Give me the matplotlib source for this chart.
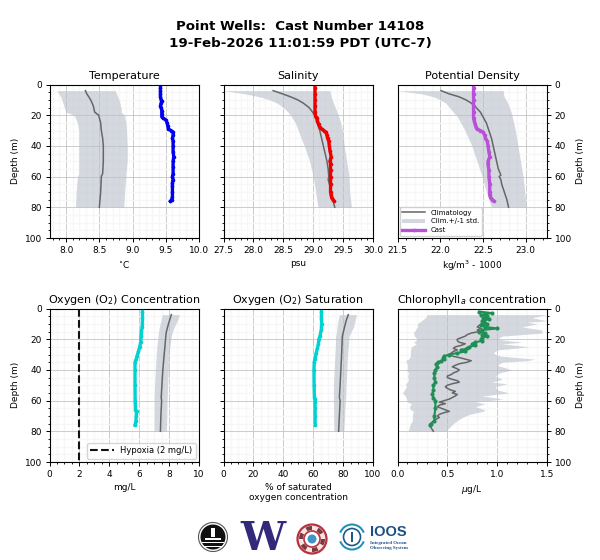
import matplotlib
matplotlib.use('Agg')
import matplotlib.pyplot as plt
from matplotlib.patches import Circle, Wedge, Rectangle
from matplotlib.ticker import AutoMinorLocator

# temperature
temp_clim_z = [4, 6, 8, 10, 12, 14, 16, 18, 20, 25, 30, 35, 40, 50, 58, 60, 65, 70, 75, 80]
temp_clim = [8.29, 8.31, 8.34, 8.37, 8.39, 8.41, 8.42, 8.43, 8.49, 8.52, 8.53, 8.55, 8.56, 8.56, 8.55, 8.53, 8.525, 8.52, 8.51, 8.50]
temp_std_z = [4, 8, 12, 16, 18, 20, 25, 30, 40, 50, 58, 60, 70, 80]
temp_low = [7.86, 7.92, 7.95, 7.98, 8.0, 8.12, 8.17, 8.19, 8.19, 8.19, 8.19, 8.17, 8.15, 8.14]
temp_high = [8.74, 8.78, 8.81, 8.83, 8.83, 8.88, 8.90, 8.91, 8.92, 8.92, 8.90, 8.90, 8.88, 8.87]
temp_z = [2, 4, 6, 8, 10, 11, 12, 14, 15, 17, 19, 21, 22, 23, 25, 27, 29, 30, 31, 33, 35, 37, 40, 44, 47, 50, 54, 58, 60, 62, 64, 66, 70, 73, 75, 76]
temp = [9.42, 9.42, 9.42, 9.42, 9.43, 9.44, 9.43, 9.42, 9.43, 9.44, 9.44, 9.44, 9.46, 9.50, 9.52, 9.53, 9.54, 9.58, 9.61, 9.61, 9.60, 9.61, 9.61, 9.61, 9.62, 9.61, 9.61, 9.61, 9.60, 9.61, 9.60, 9.60, 9.60, 9.60, 9.59, 9.57]

# salinity
sal_clim_z = [4, 6, 8, 10, 12, 15, 18, 20, 25, 30, 35, 40, 45, 50, 55, 60, 62, 66, 70, 75, 80]
sal_clim = [28.33, 28.48, 28.62, 28.74, 28.83, 28.93, 28.99, 29.02, 29.07, 29.11, 29.14, 29.17, 29.20, 29.23, 29.25, 29.26, 29.25, 29.28, 29.30, 29.33, 29.36]
sal_std_z = [4, 6, 8, 10, 12, 15, 18, 20, 25, 30, 40, 50, 60, 70, 80]
sal_low = [27.5, 27.85, 28.1, 28.27, 28.39, 28.50, 28.58, 28.62, 28.70, 28.75, 28.85, 28.94, 29.0, 29.04, 29.08]
sal_high = [29.28, 29.29, 29.30, 29.32, 29.34, 29.37, 29.40, 29.42, 29.46, 29.49, 29.52, 29.56, 29.60, 29.61, 29.64]
sal_z = [2, 6, 10, 14, 18, 21, 22, 24, 26, 28, 29, 30, 31, 33, 35, 37, 40, 43, 47, 50, 52, 56, 60, 65, 70, 72, 74, 75, 76]
sal = [29.03, 29.03, 29.03, 29.03, 29.03, 29.04, 29.07, 29.07, 29.09, 29.11, 29.14, 29.18, 29.21, 29.23, 29.24, 29.26, 29.27, 29.28, 29.30, 29.28, 29.29, 29.29, 29.29, 29.29, 29.29, 29.30, 29.31, 29.33, 29.35]

# potential density
den_clim_z = [4, 6, 8, 10, 12, 15, 18, 20, 25, 30, 35, 40, 45, 50, 55, 59, 60, 62, 65, 70, 75, 80]
den_clim = [22.01, 22.10, 22.22, 22.30, 22.36, 22.42, 22.47, 22.49, 22.54, 22.57, 22.60, 22.62, 22.64, 22.66, 22.68, 22.71, 22.69, 22.71, 22.72, 22.75, 22.78, 22.80]
den_std_z = [4, 6, 8, 10, 12, 15, 18, 20, 25, 30, 40, 50, 60, 70, 80]
den_low = [21.5, 21.78, 21.92, 22.0, 22.06, 22.11, 22.15, 22.19, 22.24, 22.29, 22.37, 22.43, 22.49, 22.54, 22.60]
den_high = [22.74, 22.74, 22.75, 22.77, 22.79, 22.81, 22.83, 22.84, 22.86, 22.88, 22.91, 22.94, 22.97, 22.99, 23.01]
den_z = [2, 6, 10, 14, 18, 22, 24, 26, 28, 29, 30, 31, 33, 35, 37, 40, 44, 47, 50, 52, 56, 60, 65, 70, 72, 74, 75, 76]
den = [22.39, 22.39, 22.39, 22.39, 22.39, 22.39, 22.40, 22.41, 22.42, 22.43, 22.47, 22.50, 22.52, 22.53, 22.55, 22.56, 22.57, 22.58, 22.56, 22.56, 22.57, 22.57, 22.58, 22.58, 22.58, 22.59, 22.61, 22.63]

# oxygen concentration
oxy_clim_z = [4, 8, 12, 16, 18, 25, 30, 40, 50, 58, 60, 70, 80]
oxy_clim = [8.15, 8.02, 7.9, 7.8, 7.78, 7.72, 7.67, 7.58, 7.52, 7.47, 7.50, 7.45, 7.42]
oxy_low = [7.55, 7.45, 7.35, 7.28, 7.26, 7.18, 7.14, 7.08, 7.03, 7.0, 7.0, 7.0, 7.0]
oxy_high = [8.7, 8.55, 8.35, 8.2, 8.15, 8.05, 8.0, 7.95, 7.9, 7.88, 7.87, 7.85, 7.82]
oxy_z = [2, 6, 10, 12, 15, 18, 22, 25, 28, 31, 33, 35, 40, 50, 60, 66, 67, 70, 73, 75, 76]
oxy = [6.22, 6.22, 6.21, 6.20, 6.15, 6.13, 6.10, 6.03, 5.95, 5.85, 5.80, 5.72, 5.72, 5.72, 5.73, 5.75, 5.82, 5.80, 5.78, 5.75, 5.72]

# oxygen saturation
sat_clim_z = [4, 8, 12, 16, 18, 25, 30, 40, 50, 58, 60, 70, 80]
sat_clim = [83.5, 82, 81, 80, 79.5, 79.2, 79, 78.5, 78, 77.5, 78, 77.5, 77]
sat_low = [77.5, 76.5, 76, 75.5, 75, 74.8, 74.5, 74, 73.5, 73.5, 73.5, 73.7, 73.8]
sat_high = [89, 88, 87, 85, 84, 83.5, 83, 82.5, 82, 81.8, 81.5, 81, 80.5]
sat_z = [2, 6, 10, 14, 18, 20, 23, 26, 29, 33, 35, 40, 50, 58, 59, 61, 65, 70, 76]
sat = [65.5, 65.5, 65.6, 65.4, 64.5, 63.8, 63.5, 62.8, 62, 61.2, 60.7, 60.5, 60.6, 60.8, 61.5, 61.2, 61.3, 61.3, 61.3]

# chlorophyll
chl_clim_z = [4, 8, 10, 12, 13, 14, 15, 16, 17, 18, 19, 20, 21, 22, 23, 24, 25, 26, 27, 28, 29, 30, 31, 32, 33, 34, 35, 36, 37, 38, 39, 40, 41, 42, 43, 44, 45, 46, 47, 48, 49, 50, 51, 52, 53, 54, 55, 56, 57, 58, 59, 60, 61, 62, 63, 64, 65, 66, 67, 68, 69, 70, 71, 72, 73, 74, 75, 76, 77, 78, 79, 80]
chl_clim = [0.90, 0.88, 0.84, 0.80, 0.84, 0.80, 0.82, 0.74, 0.70, 0.68, 0.64, 0.60, 0.60, 0.62, 0.68, 0.64, 0.58, 0.56, 0.60, 0.56, 0.54, 0.52, 0.55, 0.62, 0.68, 0.74, 0.70, 0.62, 0.58, 0.55, 0.59, 0.62, 0.60, 0.56, 0.54, 0.50, 0.50, 0.54, 0.60, 0.62, 0.55, 0.50, 0.48, 0.50, 0.53, 0.58, 0.55, 0.60, 0.58, 0.55, 0.52, 0.47, 0.42, 0.48, 0.42, 0.40, 0.44, 0.48, 0.52, 0.46, 0.42, 0.40, 0.42, 0.39, 0.37, 0.35, 0.33, 0.32, 0.33, 0.34, 0.35, 0.36]
chl_std_z = [4, 6, 8, 9, 10, 12, 14, 16, 18, 20, 22, 23, 25, 27, 29, 31, 33, 34, 35, 37, 39, 40, 42, 44, 46, 48, 49, 51, 53, 55, 57, 59, 61, 62, 64, 66, 67, 69, 71, 73, 75, 77, 79, 80]
chl_low = [0.30, 0.28, 0.24, 0.22, 0.20, 0.20, 0.18, 0.16, 0.17, 0.20, 0.16, 0.19, 0.14, 0.13, 0.13, 0.13, 0.11, 0.08, 0.09, 0.10, 0.10, 0.09, 0.11, 0.10, 0.11, 0.10, 0.08, 0.09, 0.07, 0.05, 0.08, 0.09, 0.10, 0.14, 0.12, 0.13, 0.16, 0.15, 0.15, 0.15, 0.13, 0.12, 0.11, 0.11]
chl_high = [1.50, 1.35, 1.50, 1.30, 1.40, 1.25, 1.45, 1.45, 1.05, 1.00, 1.25, 1.05, 1.32, 1.00, 0.96, 1.03, 1.38, 1.30, 1.05, 1.00, 1.10, 1.15, 1.02, 0.98, 1.05, 0.95, 1.10, 0.98, 1.00, 1.12, 0.85, 1.06, 0.78, 0.88, 0.78, 0.88, 0.86, 0.72, 0.65, 0.60, 0.56, 0.53, 0.50, 0.50]
chl_z = [2, 3, 4, 5, 6, 7, 8, 9, 10, 11, 12, 13, 14, 15, 16, 17, 18, 19, 20, 21, 22, 23, 24, 25, 26, 27, 28, 29, 30, 31, 32, 33, 34, 35, 36, 38, 40, 42, 45, 48, 50, 53, 56, 58, 60, 65, 70, 73, 75, 76]
chl = [0.82, 0.95, 0.84, 0.90, 0.86, 0.92, 0.85, 0.87, 0.90, 0.84, 0.88, 1.00, 0.85, 0.82, 0.88, 0.85, 0.90, 0.85, 0.84, 0.85, 0.78, 0.75, 0.78, 0.72, 0.70, 0.64, 0.68, 0.60, 0.52, 0.47, 0.46, 0.47, 0.44, 0.41, 0.39, 0.40, 0.38, 0.37, 0.37, 0.38, 0.36, 0.36, 0.35, 0.36, 0.38, 0.38, 0.37, 0.37, 0.34, 0.33]

hypoxia_x = [2, 2]
hypoxia_z = [0, 100]

plt.rcParams['font.size'] = 7
plt.rcParams['axes.linewidth'] = 0.8
plt.rcParams['xtick.major.size'] = 3
plt.rcParams['ytick.major.size'] = 3
plt.rcParams['xtick.minor.size'] = 1.5
plt.rcParams['ytick.minor.size'] = 1.5

W, H = 600, 560
fig = plt.figure(figsize=(6, 5.6), dpi=100)
fig.text(0.5, 1 - 27/H, 'Point Wells:  Cast Number 14108', ha='center', va='center', fontsize=9.6, fontweight='bold')
fig.text(0.5, 1 - 43/H, '19-Feb-2026 11:01:59 PDT (UTC-7)', ha='center', va='center', fontsize=9.6, fontweight='bold')


def make_ax(x0, x1, y0, y1):
    return fig.add_axes([x0/W, 1 - y1/H, (x1 - x0)/W, (y1 - y0)/H])


def panel(ax, title, xlabel, xlim, xticks, clim_z, clim, std_z, low, high, cast_z, cast, color, side='left', lw=2.4, ms=2.6):
    ax.plot(clim, clim_z, color='#666666', lw=1.1, label='Climatology', zorder=3)
    ax.fill_betweenx(std_z, low, high, color='#b9c0ca', alpha=0.6, lw=0, label='Clim.+/-1 std.', zorder=1)
    ax.plot(cast, cast_z, color=color, lw=lw, marker='o', ms=ms, mew=0, label='Cast', zorder=4)
    ax.set_xlim(xlim)
    ax.set_ylim(100, 0)
    ax.set_xticks(xticks)
    ax.set_yticks([0, 20, 40, 60, 80, 100])
    ax.xaxis.set_minor_locator(AutoMinorLocator())
    ax.yaxis.set_minor_locator(AutoMinorLocator())
    ax.set_axisbelow(True)
    ax.grid(True, which='major', color='#c4c4c4', lw=0.6)
    ax.grid(True, which='minor', color='#f7f7f7', lw=1.0)
    ax.set_title(title, fontsize=8, pad=4)
    ax.set_xlabel(xlabel, fontsize=6.5, labelpad=3)
    ax.tick_params(axis='both', labelsize=6.5, pad=2.5, width=0.7)
    if side == 'left':
        ax.set_ylabel('Depth (m)', fontsize=6.5, labelpad=3)
    elif side == 'none':
        ax.set_yticklabels([])
    else:
        ax.yaxis.tick_right()
        ax.yaxis.set_label_position('right')
        ax.set_ylabel('Depth (m)', fontsize=6.5, labelpad=3)


ax1 = make_ax(49.5, 199, 84.5, 238)
panel(ax1, 'Temperature', '$^{\\circ}$C', (7.75, 10), [8, 8.5, 9, 9.5, 10], temp_clim_z, temp_clim, temp_std_z, temp_low, temp_high, temp_z, temp, '#0000ee')
ax1.set_xticklabels(['8.0', '8.5', '9.0', '9.5', '10.0'])

ax2 = make_ax(223.5, 373, 84.5, 238)
panel(ax2, 'Salinity', 'psu', (27.5, 30), [27.5, 28, 28.5, 29, 29.5, 30], sal_clim_z, sal_clim, sal_std_z, sal_low, sal_high, sal_z, sal, '#ee0000', 'none')

ax3 = make_ax(397.5, 547, 84.5, 238)
panel(ax3, 'Potential Density', 'kg/m$^3$ - 1000', (21.5, 23.25), [21.5, 22, 22.5, 23], den_clim_z, den_clim, den_std_z, den_low, den_high, den_z, den, '#b950d8', 'right')
handles, labels = ax3.get_legend_handles_labels()
order = [labels.index(s) for s in ['Climatology', 'Clim.+/-1 std.', 'Cast']]
ax3.legend([handles[i] for i in order], [labels[i] for i in order], loc='lower left', fontsize=5, borderaxespad=0.35, framealpha=0.85, handlelength=3.3, labelspacing=0.4, borderpad=0.35)

ax4 = make_ax(49.5, 199, 308.5, 462)
panel(ax4, 'Oxygen (O$_2$) Concentration', 'mg/L', (0, 10), [0, 2, 4, 6, 8, 10], oxy_clim_z, oxy_clim, oxy_clim_z, oxy_low, oxy_high, oxy_z, oxy, '#00d2d2')
line, = ax4.plot(hypoxia_x, hypoxia_z, color='#111111', lw=1.5, ls='--', zorder=5)
ax4.legend([line], ['Hypoxia (2 mg/L)'], loc='lower right', fontsize=6, borderaxespad=0.4, handlelength=2.8, borderpad=0.4)

ax5 = make_ax(223.5, 373, 308.5, 462)
panel(ax5, 'Oxygen (O$_2$) Saturation', '% of saturated\noxygen concentration', (0, 100), [0, 20, 40, 60, 80, 100], sat_clim_z, sat_clim, sat_clim_z, sat_low, sat_high, sat_z, sat, '#00d2d2', 'none')

ax6 = make_ax(397.5, 547, 308.5, 462)
panel(ax6, 'Chlorophyll$_a$ concentration', '$\\mu$g/L', (0, 1.5), [0, 0.5, 1, 1.5], chl_clim_z, chl_clim, chl_std_z, chl_low, chl_high, chl_z, chl, '#1f8f55', 'right', lw=1.5, ms=3)
ax6.set_xticklabels(['0.0', '0.5', '1.0', '1.5'])

# logos along the bottom, drawn in pixel coordinates
logo = fig.add_axes([0, 0, 1, 1], zorder=10)
logo.set_xlim(0, W)
logo.set_ylim(H, 0)
logo.axis('off')
logo.patch.set_alpha(0)

logo.add_patch(Circle((213, 537), 14.5, fc='white', ec='#555555', lw=0.8))
logo.add_patch(Circle((213, 537), 12.5, fc='#111111', lw=0))
logo.add_patch(Rectangle((211, 528), 4, 9, fc='white', lw=0))
logo.add_patch(Rectangle((205, 538), 16, 1.5, fc='white', lw=0))
logo.add_patch(Rectangle((202, 542), 22, 1.2, fc='white', lw=0))
logo.add_patch(Rectangle((204, 546), 18, 1.2, fc='white', lw=0))

logo.text(263, 538.5, 'W', fontsize=29, fontweight='bold', family='DejaVu Serif', color='#32297a', ha='center', va='center')

logo.add_patch(Circle((312, 539), 14.5, fc='#f4e4e4', ec='#b8323f', lw=1.6))
for a in range(0, 360, 60):
    logo.add_patch(Wedge((312, 539), 13, a, a + 30, width=4, fc='#7a3a40', lw=0))
logo.add_patch(Circle((312, 539), 8, fc='white', ec='#b8323f', lw=1.2))
logo.add_patch(Circle((312, 539), 4.5, fc='#3d97c4', lw=0))

logo.add_patch(Wedge((352, 537), 13.5, 20, 160, width=2, fc='#1f8fb8', lw=0))
logo.add_patch(Wedge((352, 537), 13.5, 200, 340, width=2, fc='#1f8fb8', lw=0))
logo.add_patch(Circle((352, 537), 8.5, fc='white', ec='#1c5a8a', lw=1.2))
logo.add_patch(Rectangle((351, 532), 2, 10, fc='#1c5a8a', lw=0))
logo.text(370, 532, 'IOOS', fontsize=10.5, fontweight='bold', family='Liberation Sans', color='#1c4f86', ha='left', va='center')
logo.text(370, 543, 'Integrated Ocean', fontsize=3.5, fontweight='bold', family='Liberation Serif', color='#1c4f86', ha='left', va='center')
logo.text(370, 547.5, 'Observing System', fontsize=3.5, fontweight='bold', family='Liberation Serif', color='#1c4f86', ha='left', va='center')

fig.savefig('out.png', dpi=100)
